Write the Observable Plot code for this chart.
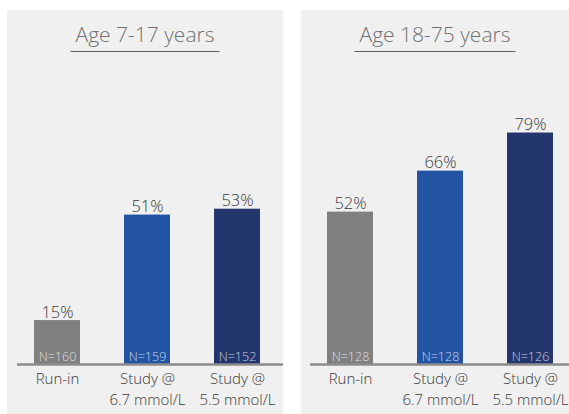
<!DOCTYPE html>
<html>
<head>
<meta charset="utf-8">
<script src="https://cdn.jsdelivr.net/npm/d3@7"></script>
<script src="https://cdn.jsdelivr.net/npm/@observablehq/plot@0.6"></script>
<style>
  html, body { margin: 0; padding: 0; background: #ffffff; }
  body { width: 569px; height: 414px; position: relative; overflow: hidden; font-family: "Open Sans", sans-serif; }
  .panel { position: absolute; top: 10px; height: 404px; background: #eff0ef; }
  .title { position: absolute; top: 14px; left: 50%; transform: translateX(-50%); white-space: nowrap; font-weight: 300;
           font-size: 21px; line-height: 21px; color: #707070; padding: 0 5px 6px 5px; border-bottom: 1px solid #606060; }
  .chart { position: absolute; top: 50px; left: 0; }
</style>
</head>
<body>
<div class="panel" id="p1" style="left:7px;width:276px;"></div>
<div class="panel" id="p2" style="left:301px;width:268px;"></div>
<script>
const categories = ["Run-in", "Study @\n6.7 mmol/L", "Study @\n5.5 mmol/L"];
const barColors = ["#808080", "#2354a3", "#23366e"];
const panelTitles = ["Age 7-17 years", "Age 18-75 years"];
const pctChild = [15, 51, 53];
const nChild = [160, 159, 152];
const pctAdult = [52, 66, 79];
const nAdult = [128, 128, 126];

function makeChart(pcts, ns, width, left, range) {
  const rows = categories.map((c, i) => ({cat: c, pct: pcts[i], n: ns[i], color: barColors[i]}));
  return Plot.plot({
    width, height: 354,
    marginTop: 11, marginBottom: 50, marginLeft: left, marginRight: 0,
    x: {domain: categories, range, paddingInner: 0.49, paddingOuter: 0, axis: null},
    y: {domain: [0, 100], axis: null},
    color: {type: "identity"},
    style: {background: "transparent", fontFamily: "Open Sans", fontWeight: 300, overflow: "visible"},
    marks: [
      Plot.barY(rows, {x: "cat", y: "pct", fill: "color"}),
      Plot.ruleY([0], {stroke: "#8c8c8c", strokeWidth: 2.5}),
      Plot.text(rows, {x: "cat", y: "pct", text: d => d.pct + "%", lineAnchor: "bottom", dy: -3, fontSize: 16.5, fontWeight: 300, fill: "#3a3a3a"}),
      Plot.text(rows, {x: "cat", y: 0, text: d => "N=" + d.n, lineAnchor: "bottom", dy: -4, fontSize: 12.5, fontWeight: 300, fill: "#ffffff", fillOpacity: 0.75}),
      Plot.text(rows, {x: "cat", y: 0, text: "cat", lineAnchor: "top", dy: 5, fontSize: 15, fontWeight: 300, lineHeight: 1.4, fill: "#3a3a3a"})
    ]
  });
}

const panels = [
  {el: document.getElementById("p1"), pcts: pctChild, ns: nChild, width: 276, left: 10, range: [27, 253]},
  {el: document.getElementById("p2"), pcts: pctAdult, ns: nAdult, width: 268, left: 9, range: [26, 252]}
];
panels.forEach((p, i) => {
  const t = document.createElement("div");
  t.className = "title";
  t.textContent = panelTitles[i];
  p.el.appendChild(t);
  const svg = makeChart(p.pcts, p.ns, p.width, p.left, p.range);
  svg.classList.add("chart");
  p.el.appendChild(svg);
});
</script>
</body>
</html>
